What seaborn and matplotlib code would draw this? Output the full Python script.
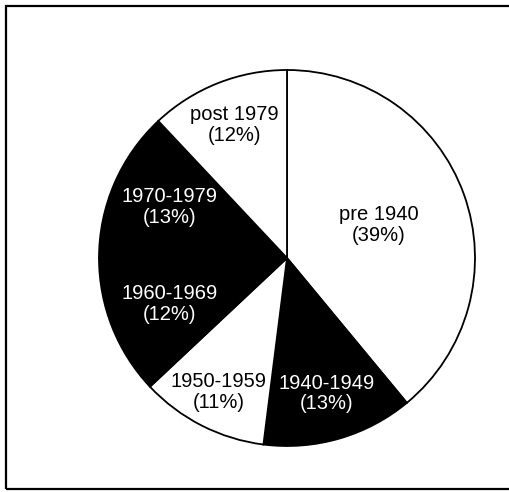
import matplotlib
matplotlib.use("Agg")
import matplotlib.pyplot as plt
import numpy as np
import seaborn as sns
from matplotlib.patches import Rectangle

# data (clockwise from 12 o'clock)
periods = ['pre 1940', '1940-1949', '1950-1959', '1960-1969', '1970-1979', 'post 1979']
shares = [39, 13, 11, 12, 13, 12]
fills = ['white', 'black', 'white', 'black', 'black', 'white']
text_colors = ['black', 'white', 'black', 'white', 'white', 'black']
label_dist = [0.52, 0.75, 0.80, 0.67, 0.68, 0.76]

sns.set_theme(style="white")
plt.rcParams['font.family'] = ['Liberation Sans', 'DejaVu Sans']

W, H = 509, 492
fig = plt.figure(figsize=(W / 100, H / 100), dpi=100)
fig.patch.set_facecolor('white')

# outer frame (right side runs off the image, as in the scan)
fig.patches.append(Rectangle((6 / W, 3 / H), 510 / W, 483 / H, transform=fig.transFigure,
                             fill=False, edgecolor='black', linewidth=1.6))

cx, cy, r = 287, H - 258, 188
ax = fig.add_axes([(cx - r) / W, (cy - r) / H, 2 * r / W, 2 * r / H])

wedges, _ = ax.pie(shares, colors=fills, startangle=90, counterclock=False,
                   wedgeprops=dict(edgecolor='black', linewidth=1.3))
ax.set_xlim(-1, 1)
ax.set_ylim(-1, 1)
ax.set_aspect('equal')
ax.axis('off')

for w, name, pct, col, d in zip(wedges, periods, shares, text_colors, label_dist):
    ang = np.deg2rad((w.theta1 + w.theta2) / 2)
    ax.text(d * np.cos(ang), d * np.sin(ang), f"{name}\n({pct}%)", ha='center', va='center',
            fontsize=14.5, color=col, linespacing=1.12)

fig.savefig("out.png", dpi=100, facecolor='white')
